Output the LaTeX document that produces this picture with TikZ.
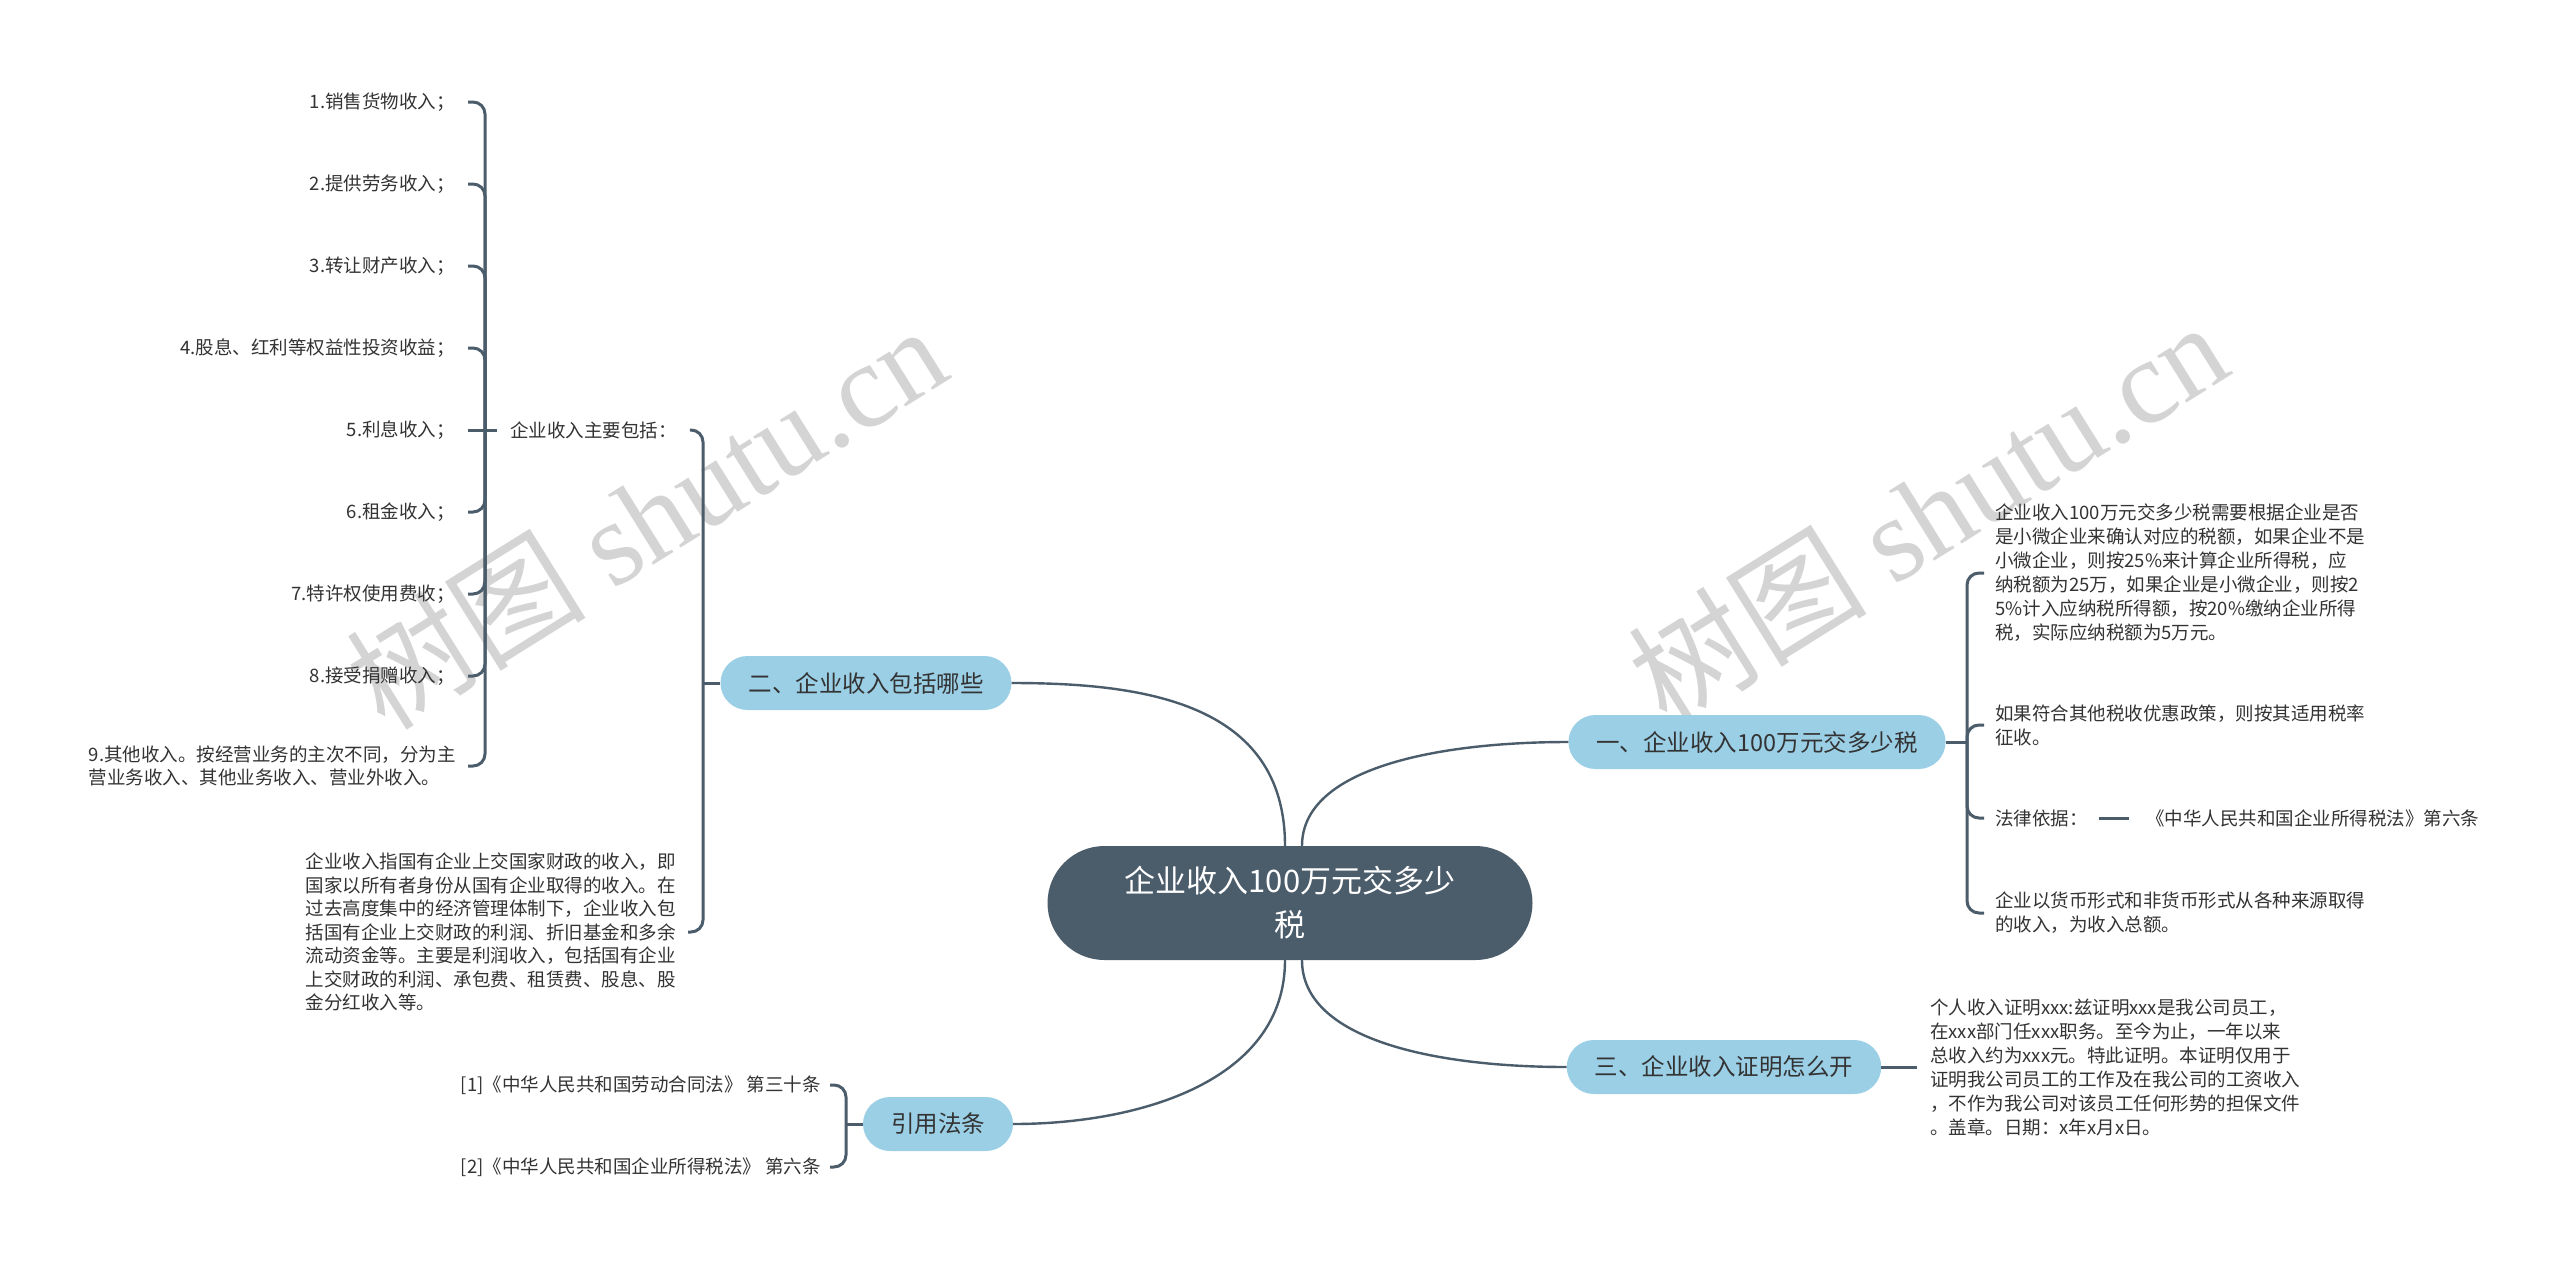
\documentclass[tikz,border=0pt]{standalone}
\usepackage{fontspec}
\usepackage{tikz}
\setmainfont{Noto Sans CJK SC}
\newfontfamily\wmfont{Liberation Serif}
\definecolor{rootfill}{HTML}{4B5C6B}
\definecolor{branchfill}{HTML}{9BCFE6}
\definecolor{linkcol}{HTML}{4B5C6B}
\definecolor{leaftext}{HTML}{333333}
\definecolor{markgray}{HTML}{D4D4D4}

\begin{document}
\begin{tikzpicture}[
  x=1pt,y=-1pt,
  root/.style={fill=rootfill,text=white,rounded corners=57pt,minimum width=485pt,minimum height=114pt,align=center,font=\fontsize{31}{44}\selectfont},
  branch/.style={fill=branchfill,text=leaftext,rounded corners=27pt,minimum height=54pt,inner xsep=28pt,font=\fontsize{23.5}{28}\selectfont},
  leaf/.style={text=leaftext,align=left,inner ysep=2pt,font=\fontsize{18.5}{23.5}\selectfont},
  link/.style={draw=linkcol,line width=2.4pt},
  brace/.style={draw=linkcol,line width=3pt,rounded corners=12pt},
  wmark/.style={text=markgray,rotate=32,font=\fontsize{120}{120}\selectfont}
]
  \fill[white] (0,0) rectangle (2560,1267);
  \useasboundingbox (0,0) rectangle (2560,1267);
  % watermarks
  \node[wmark] (wm1) at (646,516) {树图 {\wmfont shutu.cn}};
  \node[wmark] (wm2) at (1927,512) {树图 {\wmfont shutu.cn}};

  \node[root] (root) at (1290,903) {企业收入100万元交多少\\税};
  \node[branch] (incl) at (866,683) {二、企业收入包括哪些};
  \node[branch] (tax) at (1757,742) {一、企业收入100万元交多少税};
  \node[branch] (proof) at (1724,1067) {三、企业收入证明怎么开};
  \node[branch] (law) at (938,1124) {引用法条};

  \draw[link] ([xshift=-5pt]root.north) .. controls +(0,-144) and +(130,0) .. (incl.east);
  \draw[link] ([xshift=12pt]root.north) .. controls +(0,-78) and +(-130,0) .. (tax.west);
  \draw[link] ([xshift=-5pt]root.south) .. controls +(0,120) and +(128,0) .. (law.east);
  \draw[link] ([xshift=12pt]root.south) .. controls +(0,80) and +(-130,0) .. (proof.west);

  % 二
  \coordinate (jincl) at (703,683);
  \coordinate (jsub) at (485,430);
  \node[leaf,anchor=west,inner xsep=13pt] (sub) at (497,430) {企业收入主要包括：};
  \foreach \t [count=\i] in {1.销售货物收入；,2.提供劳务收入；,3.转让财产收入；,4.股息、红利等权益性投资收益；,5.利息收入；,6.租金收入；,7.特许权使用费收；,8.接受捐赠收入；}
    \node[leaf,anchor=east,inner xsep=13pt] (it\i) at (468,{430+(\i-5)*82}) {\t};
  \node[leaf,anchor=east,inner xsep=12pt] (it9) at (468,766) {9.其他收入。按经营业务的主次不同，分为主\\营业务收入、其他业务收入、营业外收入。};
  \foreach \i in {1,2,3,4,6,7,8,9}
    \draw[brace] (jsub) |- (it\i.east);
  \draw[brace] (jsub) -- (it5.east);
  \draw[brace] (jsub) -- (sub.west);
  \node[leaf,anchor=east,inner xsep=12pt] (para) at (688,932) {企业收入指国有企业上交国家财政的收入，即\\国家以所有者身份从国有企业取得的收入。在\\过去高度集中的经济管理体制下，企业收入包\\括国有企业上交财政的利润、折旧基金和多余\\流动资金等。主要是利润收入，包括国有企业\\上交财政的利润、承包费、租赁费、股息、股\\金分红收入等。};
  \draw[brace] (incl.west) -- (jincl);
  \draw[brace] (jincl) |- (sub.east);
  \draw[brace] (jincl) |- (para.east);

  % 一
  \coordinate (jtax) at (1967,742);
  \node[leaf,anchor=west,inner xsep=11pt,font=\fontsize{18.5}{24}\selectfont] (t1) at (1984,573) {企业收入100万元交多少税需要根据企业是否\\是小微企业来确认对应的税额，如果企业不是\\小微企业，则按25\%来计算企业所得税，应\\纳税额为25万，如果企业是小微企业，则按2\\5\%计入应纳税所得额，按20\%缴纳企业所得\\税，实际应纳税额为5万元。};
  \node[leaf,anchor=west,inner xsep=11pt,font=\fontsize{18.5}{24}\selectfont] (t2) at (1984,725) {如果符合其他税收优惠政策，则按其适用税率\\征收。};
  \node[leaf,anchor=west,inner xsep=11pt] (t3) at (1984,818) {法律依据：};
  \node[leaf,anchor=west,inner xsep=17pt] (t3b) at (2129,818) {《中华人民共和国企业所得税法》第六条};
  \node[leaf,anchor=west,inner xsep=11pt,font=\fontsize{18.5}{24}\selectfont] (t4) at (1984,913) {企业以货币形式和非货币形式从各种来源取得\\的收入，为收入总额。};
  \draw[brace] (tax.east) -- (jtax);
  \foreach \n in {t1,t2,t3,t4}
    \draw[brace] (jtax) |- (\n.west);
  \draw[brace] (t3.east) -- (t3b.west);

  % 三
  \node[leaf,anchor=west,inner xsep=13pt,font=\fontsize{18.5}{24}\selectfont] (cert) at (1917,1067) {个人收入证明xxx:兹证明xxx是我公司员工，\\在xxx部门任xxx职务。至今为止，一年以来\\总收入约为xxx元。特此证明。本证明仅用于\\证明我公司员工的工作及在我公司的工资收入\\，不作为我公司对该员工任何形势的担保文件\\。盖章。日期：x年x月x日。};
  \draw[brace] (proof.east) -- (cert.west);

  % 引用法条
  \coordinate (jlaw) at (846,1124);
  \node[leaf,anchor=east,inner xsep=9pt] (ref1) at (830,1085) {[1]《中华人民共和国劳动合同法》 第三十条};
  \node[leaf,anchor=east,inner xsep=9pt] (ref2) at (830,1167) {[2]《中华人民共和国企业所得税法》 第六条};
  \draw[brace] (law.west) -- (jlaw);
  \draw[brace] (jlaw) |- (ref1.east);
  \draw[brace] (jlaw) |- (ref2.east);
\end{tikzpicture}
\end{document}
